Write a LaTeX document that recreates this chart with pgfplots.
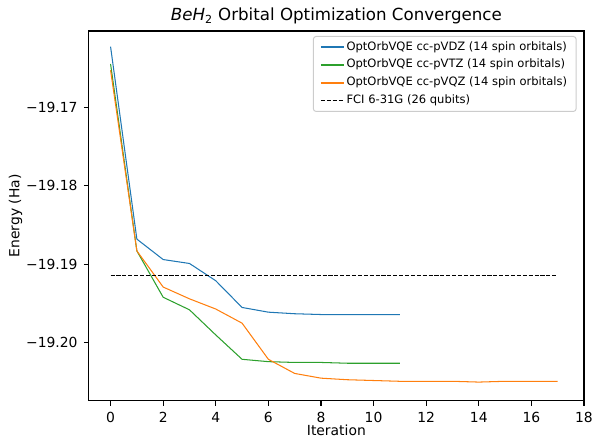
\documentclass[border=0pt]{standalone}
\usepackage{pgfplots}
\pgfplotsset{compat=1.18}
\usepackage{fontspec}
\setmainfont{DejaVu Sans}
\definecolor{tabblue}{HTML}{1F77B4}
\definecolor{tabgreen}{HTML}{2CA02C}
\definecolor{taborange}{HTML}{FF7F0E}
\begin{document}
\begin{tikzpicture}
\begin{axis}[
  scale only axis, width=356.6pt, height=266.4pt,
  xmin=-0.83, xmax=18, ymin=-19.2074, ymax=-19.1603,
  xtick={0,2,...,18},
  ytick={-19.20,-19.19,-19.18,-19.17},
  yticklabels={−19.20,−19.19,−19.18,−19.17},
  /pgf/number format/assume math mode=true,
  tick pos=left, tick align=outside, major tick length=3.5pt,
  tick style={line width=0.8pt, black},
  axis line style={line width=0.8pt},
  every tick label/.append style={font=\fontsize{10}{12}\selectfont},
  xticklabel style={yshift=-1pt},
  yticklabel style={xshift=-1pt},
  title={\textit{BeH}\textsubscript{2} Orbital Optimization Convergence},
  title style={font=\fontsize{12}{14}\selectfont, yshift=-4.5pt},
  xlabel={Iteration}, ylabel={Energy (Ha)},
  label style={font=\fontsize{10}{12}\selectfont},
  xlabel style={yshift=5pt},
  ylabel style={yshift=-4pt},
  legend style={at={(1,1)}, anchor=north east, xshift=-5.3pt, yshift=-3.6pt,
    font=\fontsize{8.3}{10}\selectfont, draw=black!20, line width=0.7pt,
    rounded corners=2pt, inner xsep=5pt, inner ysep=2pt, row sep=1.6pt,
    nodes={inner sep=1.5pt, text depth=0.2em},
    /tikz/every even column/.append style={column sep=5pt}},
  legend cell align=left,
  legend image code/.code={\draw[#1, line width=0.9pt] (0pt,0pt) -- (16.5pt,0pt);},
]
\addplot[tabblue, line width=0.75pt] coordinates {
(0,-19.1623) (1,-19.1868) (2,-19.1894) (3,-19.1899) (4,-19.1921) (5,-19.1955)
(6,-19.1961) (7,-19.1963) (8,-19.1964) (9,-19.1964) (10,-19.1964) (11,-19.1964)};
\addlegendentry{OptOrbVQE cc-pVDZ (14 spin orbitals)}
\addplot[tabgreen, line width=0.75pt] coordinates {
(0,-19.1645) (1,-19.1883) (2,-19.1942) (3,-19.1958) (4,-19.1990) (5,-19.2021)
(6,-19.2024) (7,-19.2025) (8,-19.2025) (9,-19.2026) (10,-19.2026) (11,-19.2026)};
\addlegendentry{OptOrbVQE cc-pVTZ (14 spin orbitals)}
\addplot[taborange, line width=0.75pt] coordinates {
(0,-19.1653) (1,-19.1883) (2,-19.1929) (3,-19.1944) (4,-19.1957) (5,-19.1975)
(6,-19.2021) (7,-19.2039) (8,-19.2045) (9,-19.2047) (10,-19.2048) (11,-19.2049)
(12,-19.2049) (13,-19.2049) (14,-19.2050) (15,-19.2049) (16,-19.2049) (17,-19.2049)};
\addlegendentry{OptOrbVQE cc-pVQZ (14 spin orbitals)}
\addplot[black, line width=0.75pt, dash pattern=on 2.96pt off 1.28pt] coordinates {
(0,-19.1914) (17,-19.1914)};
\addlegendentry{FCI 6-31G (26 qubits)}
\end{axis}
\pgfresetboundingbox
\path[use as bounding box] ([shift={(-63.9pt,-26.6pt)}]current axis.south west) rectangle ([shift={(6.5pt,22.3pt)}]current axis.north east);
\end{tikzpicture}
\end{document}
